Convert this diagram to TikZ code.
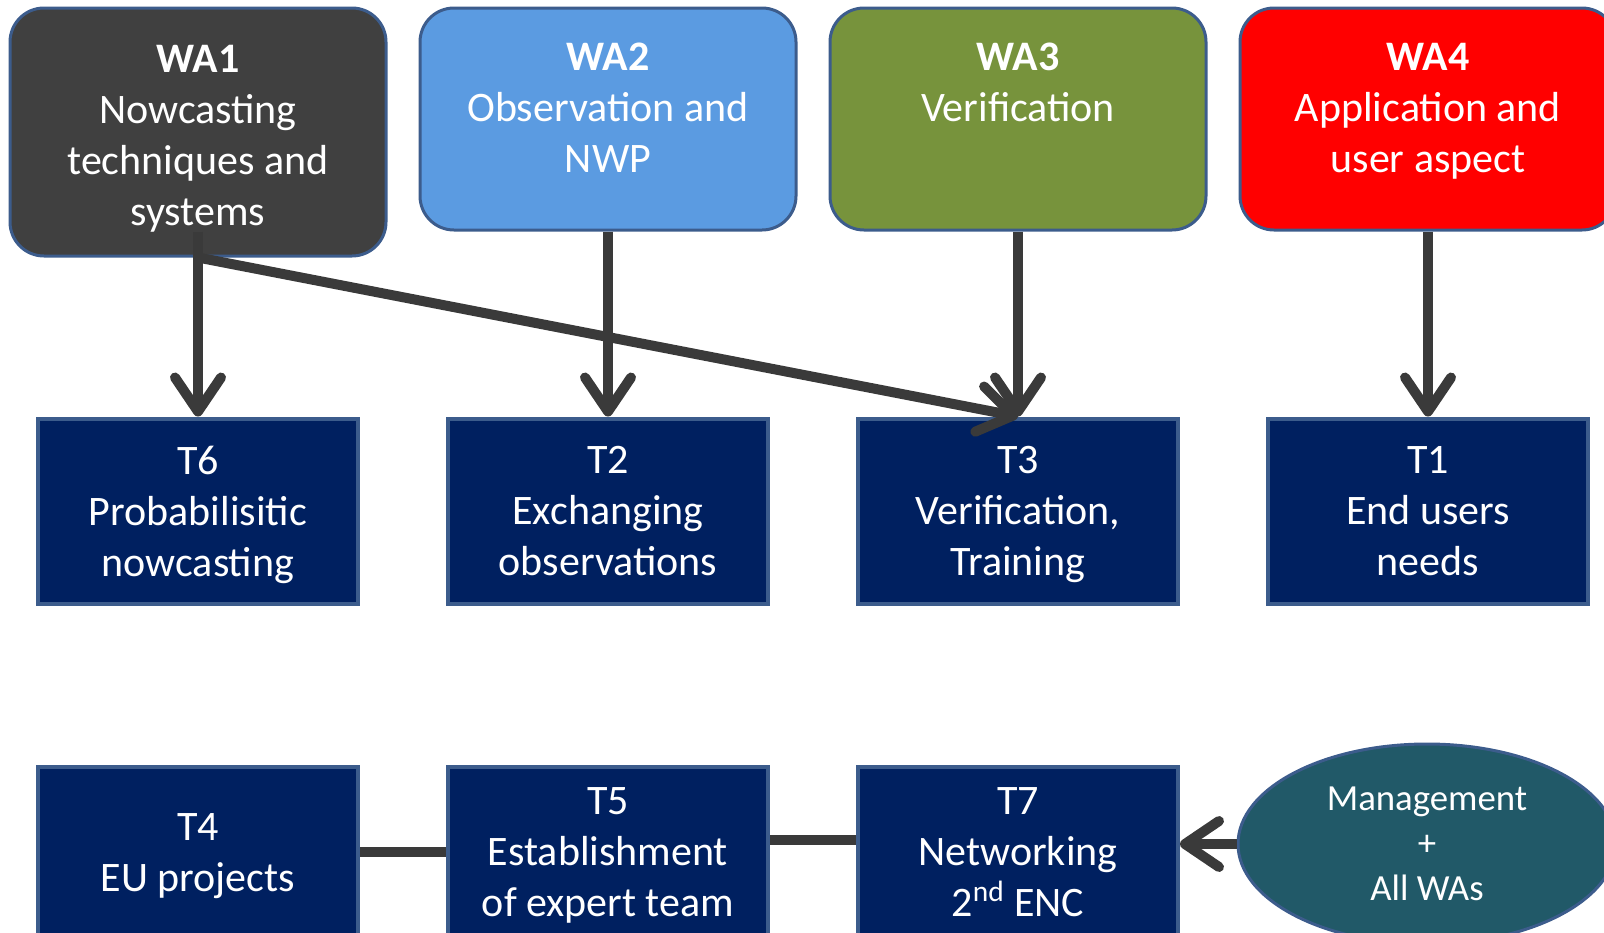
\documentclass[tikz,border=0pt]{standalone}
\usepackage{fontspec}
\setmainfont{Carlito}
\usepackage{tikz}
\usepackage{xcolor}
\usetikzlibrary{arrows.meta}
\usetikzlibrary{positioning}
\usetikzlibrary{shapes.geometric}

\definecolor{wagray}{RGB}{64,64,64}
\definecolor{wablue}{RGB}{91,155,225}
\definecolor{wagreen}{RGB}{119,147,60}
\definecolor{wared}{RGB}{255,0,0}
\definecolor{tasknavy}{RGB}{0,32,96}
\definecolor{boxedge}{RGB}{60,92,140}
\definecolor{mgmtteal}{RGB}{33,89,104}
\definecolor{arrowgray}{RGB}{58,58,58}

\begin{document}
\begin{tikzpicture}[x=0.5pt,y=-0.5pt,
  wabox/.style={draw=boxedge,line width=1.5pt,rounded corners=17pt,minimum width=188pt,inner sep=0pt},
  watext/.style={text=white,align=center,inner sep=0pt,font=\fontsize{21}{25.5}\selectfont},
  taskbox/.style={draw=boxedge,line width=2pt,fill=tasknavy,text=white,align=center,minimum width=160pt,
    text depth=0pt,font=\fontsize{21}{25.5}\selectfont},
  link/.style={arrowgray,line width=5pt},
  flow/.style={link,-{Straight Barb[length=17pt,width=23pt,round]}}]
\clip (0,0) rectangle (1604,932);
\node[wabox,fill=wagray,minimum height=124pt] (wa1) at (198,132) {};
\node[wabox,fill=wablue,minimum height=111pt] (wa2) at (608,119) {};
\node[wabox,fill=wagreen,minimum height=111pt] (wa3) at (1018,119) {};
\node[wabox,fill=wared,minimum height=111pt] (wa4) at (1428,119) {};
\node[watext,below=19pt of wa1.north] (wa1txt) {\textbf{WA1}\\Nowcasting\\techniques and\\systems};
\node[watext,below=18pt of wa2.north] (wa2txt) {\textbf{WA2}\\Observation and\\NWP};
\node[watext,below=18pt of wa3.north] (wa3txt) {\textbf{WA3}\\Verification};
\node[watext,below=18pt of wa4.north] (wa4txt) {\textbf{WA4}\\Application and\\user aspect};

\node[taskbox,minimum height=92.5pt] (t6) at (198,511) {T6\\Probabilisitic\\nowcasting};
\node[taskbox,minimum height=92.5pt] (t2) at (608,511) {T2\\Exchanging\\observations};
\node[taskbox,minimum height=92.5pt] (t3) at (1018,511) {T3\\Verification,\\Training};
\node[taskbox,minimum height=92.5pt] (t1) at (1428,511) {T1\\End users\\needs};

\node[taskbox,minimum height=85pt] (t4) at (198,852) {T4\\EU projects};
\node[taskbox,minimum height=85pt] (t5) at (608,852) {T5\\Establishment\\of expert team};
\node[taskbox,minimum height=85pt] (t7) at (1018,852) {T7\\Networking\\2\textsuperscript{nd} ENC};
\node[ellipse,draw=boxedge,line width=1.5pt,fill=mgmtteal,text=white,align=center,inner sep=0pt,
  minimum width=189pt,minimum height=100pt,font=\fontsize{18.4}{22.5}\selectfont] (mgmt) at (1427,844) {Management\\+\\All WAs};

\draw[flow] ([yshift=13pt]wa1.south) -- (t6.north);
\draw[flow] (wa1.south) -- (t3.north);
\draw[flow] (wa2.south) -- (t2.north);
\draw[flow] (wa3.south) -- (t3.north);
\draw[flow] (wa4.south) -- (t1.north);
\draw[link] (t4.east) -- (t5.west);
\draw[link] ([yshift=6pt]t5.east) -- ([yshift=6pt]t7.west);
\draw[flow] (mgmt.west) -- (mgmt.west -| t7.east);
\end{tikzpicture}
\end{document}
